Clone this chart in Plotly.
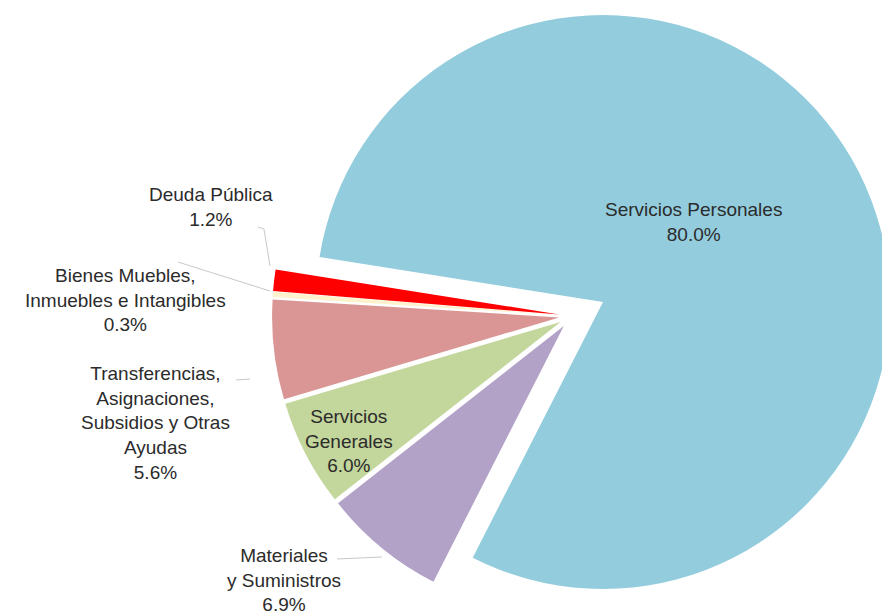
import plotly.graph_objects as go

# ---- data ----
categories = [
    "Servicios Personales",
    "Materiales y Suministros",
    "Servicios Generales",
    "Transferencias, Asignaciones, Subsidios y Otras Ayudas",
    "Bienes Muebles, Inmuebles e Intangibles",
    "Deuda Pública",
]
shares = [80.0, 6.9, 6.0, 5.6, 0.3, 1.2]
label_text = [
    "Servicios Personales",
    "Materiales<br>y Suministros",
    "Servicios<br>Generales",
    "Transferencias,<br>Asignaciones,<br>Subsidios y Otras<br>Ayudas",
    "Bienes Muebles,<br>Inmuebles e Intangibles",
    "Deuda Pública",
]
colors = ["#93CDDD", "#B3A2C7", "#C3D69B", "#D99694", "#FFF2CC", "#FF0000"]

# page has an 8px body margin; work in window pixels and convert
OFF = 8
W, H = 890 - OFF, 616 - OFF
def px(x): return (x - OFF) / W
def py(y): return 1 - (y - OFF) / H

clear = "rgba(0,0,0,0)"
common = dict(labels=categories, values=shares, sort=False, direction="clockwise",
              rotation=279, textinfo="none", hoverinfo="label+percent", showlegend=False)

# big slice trace
colA = [colors[0]] + [clear] * 5
traceA = go.Pie(**common, marker=dict(colors=colA, line=dict(width=0)),
                domain=dict(x=[px(316), px(890)], y=[py(589), py(15)]))
# small slices trace
colB = [clear] + colors[1:]
pullB = [0] + [0.045] * 5
traceB = go.Pie(**common, marker=dict(colors=colB, line=dict(width=0)), pull=pullB,
                domain=dict(x=[px(272), px(872)], y=[py(616), py(16)]))

fig = go.Figure([traceA, traceB])

font = dict(family="Liberation Sans, Arial, sans-serif", size=19, color="#2B2B2B")
label_pos = [(693, 222), (284, 580), (349, 441), (155, 423), (125, 300), (211, 207)]
annotations = []
for i, (x, y) in enumerate(label_pos):
    annotations.append(dict(x=px(x), y=py(y), xref="paper", yref="paper",
                            text=f"{label_text[i]}<br>{shares[i]:.1f}%",
                            showarrow=False, font=font, align="center",
                            xanchor="center", yanchor="middle"))

def seg(points):
    d = "M " + " L ".join(f"{px(a):.4f} {py(b):.4f}" for a, b in points)
    return dict(type="path", path=d, xref="paper", yref="paper",
                line=dict(color="#C8C8C8", width=1))

shapes = [
    seg([(258, 227), (264, 229), (270, 266)]),
    seg([(178, 262), (270, 291)]),
    seg([(236, 380), (250, 379)]),
    seg([(337, 559), (382, 557)]),
]

fig.update_layout(width=W, height=H, margin=dict(l=0, r=0, t=0, b=0),
                  paper_bgcolor="white", plot_bgcolor="white",
                  annotations=annotations, shapes=shapes)
fig.write_html("out.html")
